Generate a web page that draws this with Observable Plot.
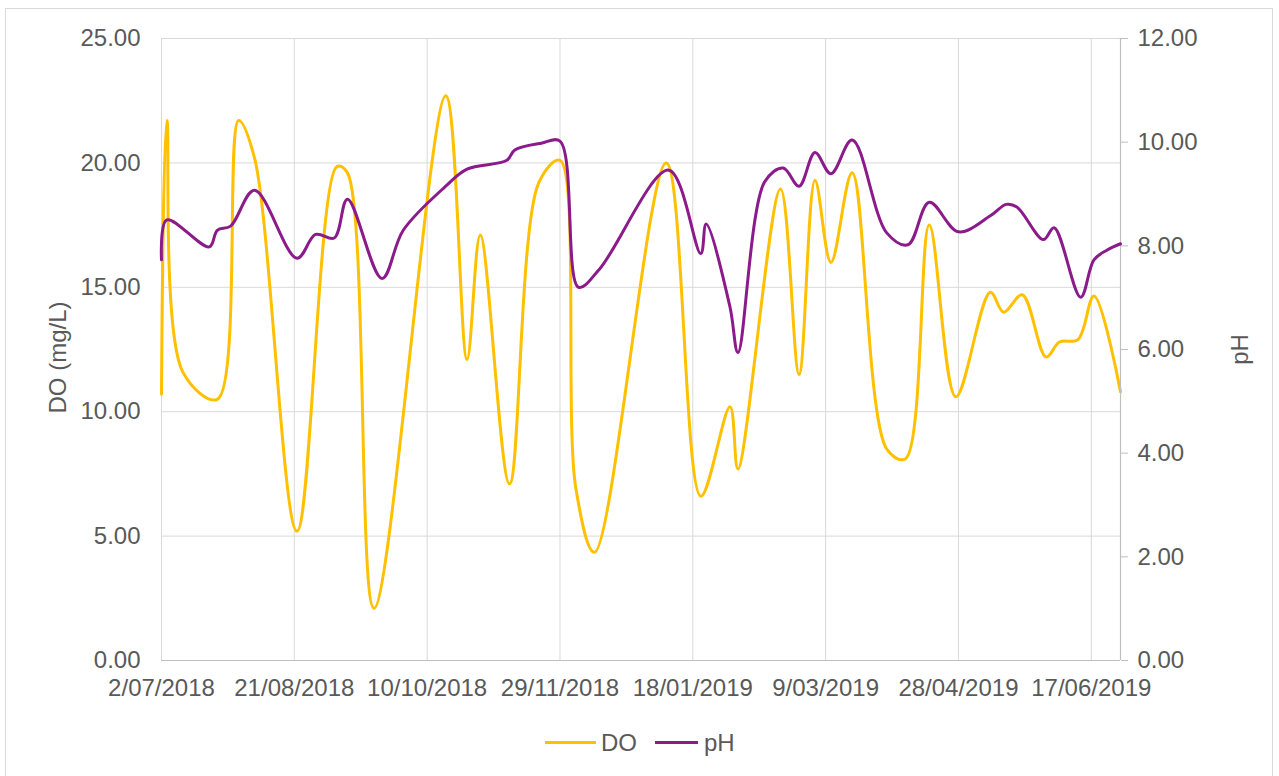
<!DOCTYPE html>
<html>
<head>
<meta charset="utf-8">
<script src="https://cdn.jsdelivr.net/npm/d3@7"></script>
<script src="https://cdn.jsdelivr.net/npm/@observablehq/plot@0.6"></script>
<style>
  html, body { margin: 0; padding: 0; background: #fff; width: 1279px; height: 776px; overflow: hidden; }
  body { position: relative; font-family: "Liberation Sans", Arial, sans-serif; }
  #frame { position: absolute; left: 5px; top: 8px; width: 1268px; height: 800px; border: 1px solid #d9d9d9; box-sizing: border-box; }
  .layer { position: absolute; left: 0; top: 0; }
  .leg { position: absolute; height: 3px; }
  .legtxt { position: absolute; font-size: 24px; color: #595959; line-height: 24px; }
</style>
</head>
<body>
<div id="frame"></div>
<div id="do" class="layer"></div>
<div id="ph" class="layer"></div>
<div class="leg" style="left:545px;top:741px;width:51px;background:#FFC000"></div>
<div class="legtxt" style="left:601px;top:731px">DO</div>
<div class="leg" style="left:655px;top:741px;width:43px;background:#8B1A8B"></div>
<div class="legtxt" style="left:704px;top:731px">pH</div>
<script>
// ---- data ----
const doDates = ["2018-07-02","2018-07-04","2018-07-10","2018-07-23","2018-07-31","2018-08-06","2018-08-22","2018-09-06","2018-09-10","2018-09-20","2018-10-17","2018-10-25","2018-10-30","2018-11-10","2018-11-21","2018-11-29","2018-12-05","2018-12-12","2019-01-08","2019-01-21","2019-02-01","2019-02-04","2019-02-20","2019-02-27","2019-03-05","2019-03-11","2019-03-19","2019-04-01","2019-04-08","2019-04-17","2019-04-27","2019-05-10","2019-05-15","2019-05-22","2019-05-31","2019-06-05","2019-06-12","2019-06-18","2019-06-28"];
const doValues = [10.7,21.7,11.6,10.5,21.7,20.2,5.2,19.85,19.6,2.1,22.7,12.1,17.1,7.1,19.2,20.1,6.9,4.35,20.0,6.6,10.2,7.7,18.95,11.5,19.3,16.0,19.6,8.5,8.1,17.5,10.6,14.8,14.0,14.7,12.2,12.8,12.9,14.65,10.8];

const phDates = ["2018-07-02","2018-07-04","2018-07-20","2018-07-23","2018-07-28","2018-08-06","2018-08-22","2018-08-29","2018-09-05","2018-09-10","2018-09-23","2018-10-01","2018-10-17","2018-10-25","2018-11-09","2018-11-12","2018-11-22","2018-11-29","2018-12-06","2018-12-14","2019-01-09","2019-01-21","2019-01-23","2019-02-01","2019-02-04","2019-02-14","2019-02-21","2019-02-27","2019-03-05","2019-03-11","2019-03-19","2019-04-01","2019-04-09","2019-04-17","2019-04-28","2019-05-10","2019-05-16","2019-05-20","2019-05-30","2019-06-03","2019-06-13","2019-06-18","2019-06-23","2019-06-28"];
const phValues = [7.73,8.5,7.98,8.3,8.38,9.07,7.76,8.22,8.15,8.9,7.37,8.3,9.15,9.48,9.65,9.85,9.98,10.02,7.2,7.56,9.46,7.85,8.42,6.82,5.94,9.23,9.5,9.15,9.8,9.39,10.04,8.25,8.02,8.84,8.27,8.58,8.8,8.75,8.12,8.35,7.01,7.73,7.92,8.04];

const xTickDates = ["2018-07-02","2018-08-21","2018-10-10","2018-11-29","2019-01-18","2019-03-09","2019-04-28","2019-06-17"];
const doTicks = [0,5,10,15,20,25];
const phTicks = [0,2,4,6,8,10,12];
const xDomainDates = ["2018-07-02","2019-06-28"];

// ---- build ----
const parse = d3.utcParse("%Y-%m-%d");
const doData = doDates.map((d,i) => ({date: parse(d), v: doValues[i]}));
const phData = phDates.map((d,i) => ({date: parse(d), v: phValues[i]}));
const xTicks = xTickDates.map(parse);
const xDomain = xDomainDates.map(parse);
const fmtDate = d3.utcFormat("%-d/%m/%Y");

const W = 1279, H = 776;
const M = {top: 38, right: 159, bottom: 116, left: 161};
const FONT = '"Liberation Sans", Arial, sans-serif';
const TXT = "#595959";
const GRID = "#d9d9d9";
const AXIS = "#bfbfbf";

const common = {
  width: W, height: H,
  marginTop: M.top, marginRight: M.right, marginBottom: M.bottom, marginLeft: M.left,
  style: {background: "transparent", overflow: "visible", fontFamily: FONT}
};

const plotDO = Plot.plot({
  ...common,
  x: {type: "utc", domain: xDomain},
  y: {domain: [0, 25]},
  marks: [
    Plot.gridY(doTicks, {stroke: GRID, strokeOpacity: 1, strokeWidth: 1}),
    Plot.gridX(xTicks, {stroke: GRID, strokeOpacity: 1, strokeWidth: 1}),
    Plot.ruleY([0], {stroke: AXIS, strokeWidth: 1.2}),
    Plot.axisY(doTicks, {anchor: "left", tickSize: 0, tickPadding: 21, tickFormat: d => d.toFixed(2), fontSize: 24, fill: TXT, label: null}),
    Plot.axisX(xTicks, {anchor: "bottom", tickSize: 0, tickPadding: 18, tickFormat: fmtDate, fontSize: 24, fill: TXT, label: null}),
    Plot.text(["DO (mg/L)"], {frameAnchor: "left", dx: -103, dy: 8, rotate: -90, textAnchor: "middle", lineAnchor: "middle", fontSize: 24, fill: TXT}),
    Plot.line(doData, {x: "date", y: "v", stroke: "#FFC000", strokeWidth: 3, curve: "catmull-rom"})
  ]
});
document.getElementById("do").append(plotDO);

const plotPH = Plot.plot({
  ...common,
  x: {type: "utc", domain: xDomain, axis: null},
  y: {domain: [0, 12], axis: null},
  marks: [
    Plot.ruleX([xDomain[1]], {stroke: AXIS, strokeWidth: 1.2}),
    Plot.axisY(phTicks, {anchor: "right", tickSize: 7, tickPadding: 10, stroke: AXIS, tickFormat: d => d.toFixed(2), fontSize: 24, fill: TXT, label: null}),
    Plot.text(["pH"], {frameAnchor: "right", dx: 120, dy: 0, rotate: -90, textAnchor: "middle", lineAnchor: "middle", fontSize: 24, fill: TXT}),
    Plot.line(phData, {x: "date", y: "v", stroke: "#8B1A8B", strokeWidth: 3, curve: "catmull-rom"})
  ]
});
document.getElementById("ph").append(plotPH);
</script>
</body>
</html>
